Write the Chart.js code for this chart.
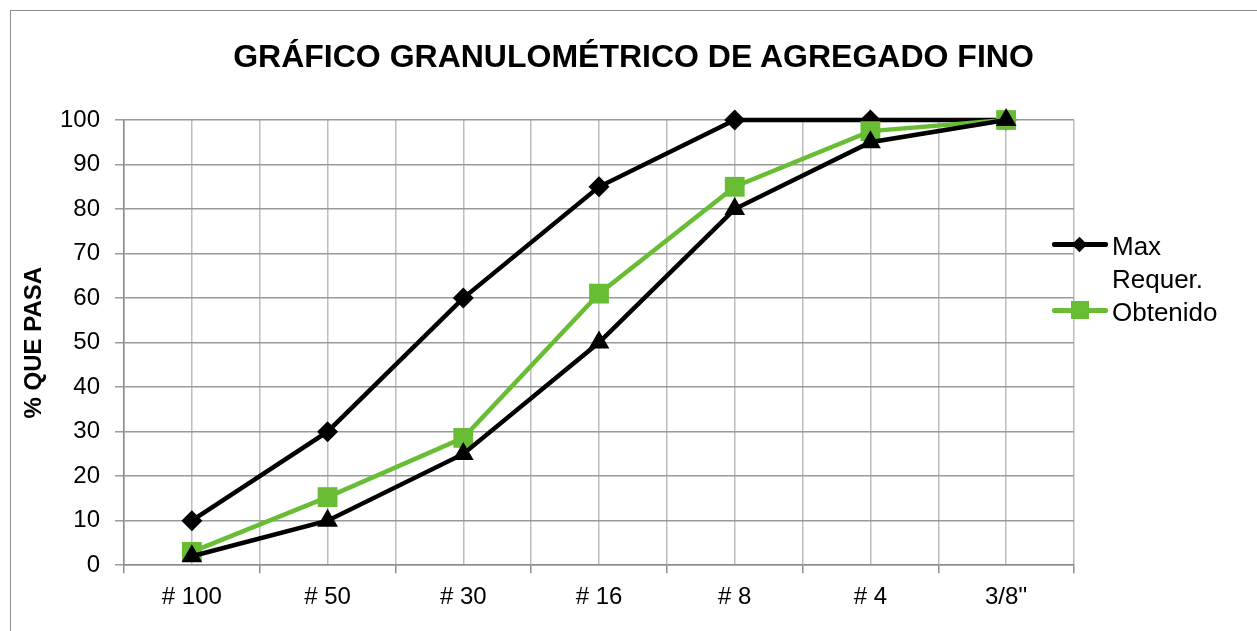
<!DOCTYPE html>
<html>
<head>
<meta charset="utf-8">
<script src="https://cdn.jsdelivr.net/npm/chart.js@4"></script>
<style>
  html, body { margin: 0; padding: 0; background: #fff; overflow: hidden; }
  #wrap { position: relative; width: 1257px; height: 631px; }
  #frame { position: absolute; left: 10px; top: 10px; width: 1300px; height: 700px; border: 1.5px solid #8c8c8c; }
  #usageChart { position: absolute; left: 0; top: 0; }
  #title { position: absolute; left: 10px; width: 1247px; top: 40px; text-align: center;
           font: bold 32px/32px "Liberation Sans", Arial, sans-serif; color: #000; white-space: nowrap; }
  #legend { position: absolute; left: 1052px; top: 230px; font-family: "Liberation Sans", Arial, sans-serif; font-size: 26px; color: #000; }
  .item { position: relative; padding-left: 60px; line-height: 33px; }
  .item .ln { position: absolute; left: 0; top: 12px; width: 56px; height: 4.5px; border-radius: 2px; }
  .item .mk { position: absolute; }
</style>
</head>
<body>
<div id="wrap">
  <div id="frame"></div>
  <canvas id="usageChart" width="1257" height="631"></canvas>
  <div id="title">GRÁFICO GRANULOMÉTRICO DE AGREGADO FINO</div>
  <div id="legend"></div>
</div>
<script>
const categories = ['# 100', '# 50', '# 30', '# 16', '# 8', '# 4', "3/8''"];
const maxReq = [10, 30, 60, 85, 100, 100, 100];
const minReq = [2, 10, 25, 50, 80, 95, 100];
const obtenido = [3, 15.3, 28.6, 61, 85, 97.5, 100];
const yTicks = [0, 10, 20, 30, 40, 50, 60, 70, 80, 90, 100];

const GREEN = '#69bd35';
const font = 'Liberation Sans, Arial, Helvetica, sans-serif';

// order: min drawn on top, max at the bottom
const datasets = [
  { label: 'Max Requer.', data: maxReq, borderColor: '#000', backgroundColor: '#000',
    pointStyle: 'rectRot', pointRadius: 10.5, order: 2, showInLegend: true },
  { label: 'Min Requer.', data: minReq, borderColor: '#000', backgroundColor: '#000',
    pointStyle: 'triangle', pointRadius: 12, order: 0, showInLegend: false },
  { label: 'Obtenido', data: obtenido, borderColor: GREEN, backgroundColor: GREEN,
    pointStyle: 'rect', pointRadius: 14, order: 1, showInLegend: true }
];

const ctx = document.getElementById('usageChart').getContext('2d');
new Chart(ctx, {
  type: 'line',
  data: {
    labels: categories,
    datasets: datasets.map(d => Object.assign({
      tension: 0, fill: false, clip: false, borderWidth: 4.5, pointBorderWidth: 0, pointHoverRadius: d.pointRadius
    }, d))
  },
  options: {
    responsive: false,
    animation: false,
    layout: { padding: { left: 12, right: 183, top: 120, bottom: 9 } },
    scales: {
      x: {
        offset: true,
        grid: { offset: true, color: '#bdbdbd', lineWidth: 1.5, tickLength: 8, tickColor: '#8c8c8c' },
        border: { color: '#8c8c8c', width: 1.5 },
        ticks: { color: '#000', font: { family: font, size: 24 }, padding: 10 }
      },
      x2: {
        position: 'bottom',
        offset: true,
        labels: categories,
        grid: { offset: false, color: '#bdbdbd', lineWidth: 1.5, drawTicks: false },
        border: { display: false },
        ticks: { display: false },
        afterFit: s => { s.height = 0; }
      },
      y: {
        min: 0,
        max: 100,
        afterBuildTicks: s => { s.ticks = yTicks.map(v => ({ value: v })); },
        afterFit: s => { s.width = 112; },
        grid: { color: '#9a9a9a', lineWidth: 1.5, tickLength: 9 },
        border: { color: '#8c8c8c', width: 1.5 },
        ticks: { color: '#000', font: { family: font, size: 24 }, padding: 15 },
        title: { display: true, text: '% QUE PASA', color: '#000',
          font: { family: font, size: 24, weight: 'bold' }, padding: { top: 8, bottom: 0 } }
      }
    },
    plugins: {
      legend: { display: false },
      tooltip: { enabled: false }
    }
  }
});

// legend: only the series flagged for it
const legend = document.getElementById('legend');
datasets.filter(d => d.showInLegend).forEach(d => {
  const item = document.createElement('div');
  item.className = 'item';
  const ln = document.createElement('div');
  ln.className = 'ln';
  ln.style.background = d.borderColor;
  const mk = document.createElement('div');
  mk.className = 'mk';
  mk.style.background = d.backgroundColor;
  if (d.pointStyle === 'rectRot') {
    Object.assign(mk.style, { width: '11px', height: '11px', left: '22px', top: '9px', transform: 'rotate(45deg)' });
  } else {
    Object.assign(mk.style, { width: '18px', height: '18px', left: '19px', top: '5px' });
  }
  item.appendChild(ln);
  item.appendChild(mk);
  const words = d.label.split(' ');
  item.appendChild(document.createTextNode(words[0]));
  words.slice(1).forEach(w => {
    item.appendChild(document.createElement('br'));
    item.appendChild(document.createTextNode(w));
  });
  legend.appendChild(item);
});
</script>
</body>
</html>
